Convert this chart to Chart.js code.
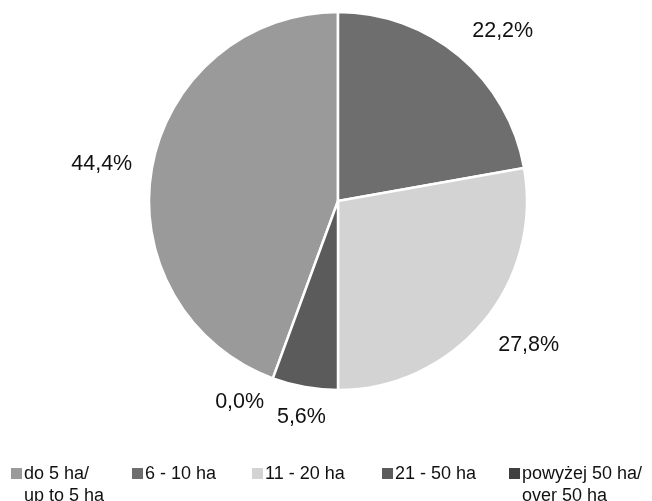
<!DOCTYPE html>
<html>
<head>
<meta charset="utf-8">
<script src="https://cdn.jsdelivr.net/npm/chart.js@4.4.1/dist/chart.umd.min.js"></script>
<style>
    html, body { margin: 0; padding: 0; background: #fff; }
    #wrap { width: 652px; height: 501px; }
</style>
</head>
<body>
<div id="wrap"><canvas id="pieChart" width="652" height="501"></canvas></div>
<script>
// Data
const categories = ['do 5 ha/\nup to 5 ha', '6 - 10 ha', '11 - 20 ha', '21 - 50 ha', 'powyżej 50 ha/\nover 50 ha'];
const shares = [44.4, 22.2, 27.8, 5.6, 0.0];
const sliceColors = ['#9a9a9a', '#6e6e6e', '#d3d3d3', '#5b5b5b', '#404040'];

// Layout bits for the legend (x of each marker)
const legendX = [11, 132, 252, 382, 509];
const legendY = 473;
const lineHeight = 22;

function fmt(v) {
    return v.toFixed(1).replace('.', ',') + '%';
}

// how far the box slides to the side of its anchor point (0 = centred)
function side(t) {
    const a = Math.min(Math.max((Math.abs(t) - 0.2) / 0.4, 0), 1);
    return t < 0 ? -a : a;
}

// Percent labels placed just outside each slice, "outside end" style
const outsideLabels = {
    id: 'outsideLabels',
    afterDatasetsDraw(chart) {
        const ctx = chart.ctx;
        const meta = chart.getDatasetMeta(0);
        const placed = [];
        ctx.save();
        ctx.font = '21.5px "Liberation Sans", Arial, sans-serif';
        ctx.fillStyle = '#111';
        ctx.textAlign = 'center';
        ctx.textBaseline = 'middle';

        function boxAt(arc, ang, hw, hh) {
            const c = Math.cos(ang), s = Math.sin(ang);
            const R = arc.outerRadius + 20;
            const x = arc.x + c * R + side(c) * hw;
            const y = arc.y + s * R + side(s) * hh;
            return { x, y, l: x - hw, r: x + hw, t: y - hh, b: y + hh };
        }

        meta.data.forEach((arc, i) => {
            const text = fmt(shares[i]);
            const hw = ctx.measureText(text).width / 2;
            const hh = 10;
            let ang = (arc.startAngle + arc.endAngle) / 2;
            let box = boxAt(arc, ang, hw, hh);
            // nudge round the pie while it sits on top of an earlier label
            for (let k = 0; k < 60; k++) {
                const hit = placed.find(p => box.l < p.r + 12 && box.r > p.l - 12 && box.t < p.b && box.b > p.t);
                if (!hit) break;
                ang += (ang >= hit.ang ? 1 : -1) * Math.PI / 180;
                box = boxAt(arc, ang, hw, hh);
            }
            box.ang = ang;
            placed.push(box);
            ctx.fillText(text, box.x, box.y);
        });
        ctx.restore();
    }
};

// Legend drawn at the bottom, two-line entries
const bottomLegend = {
    id: 'bottomLegend',
    afterDraw(chart) {
        const ctx = chart.ctx;
        ctx.save();
        ctx.font = '18px "Liberation Sans", Arial, sans-serif';
        ctx.textAlign = 'left';
        ctx.textBaseline = 'middle';
        categories.forEach((label, i) => {
            const x = legendX[i];
            ctx.fillStyle = sliceColors[i];
            ctx.fillRect(x, legendY - 5, 11, 11);
            ctx.fillStyle = '#111';
            label.split('\n').forEach((line, j) => {
                ctx.fillText(line, x + 13, legendY + 1 + j * lineHeight);
            });
        });
        ctx.restore();
    }
};

new Chart(document.getElementById('pieChart'), {
    type: 'pie',
    data: {
        labels: categories,
        datasets: [{
            data: shares,
            backgroundColor: sliceColors,
            borderColor: '#ffffff',
            borderWidth: 2.5,
            hoverOffset: 0,
            radius: 189
        }]
    },
    options: {
        responsive: false,
        animation: false,
        rotation: -shares[0] * 3.6,
        layout: { padding: { left: 24, right: 0, top: 0, bottom: 99 } },
        plugins: {
            legend: { display: false },
            tooltip: { enabled: false }
        }
    },
    plugins: [outsideLabels, bottomLegend]
});
</script>
</body>
</html>
